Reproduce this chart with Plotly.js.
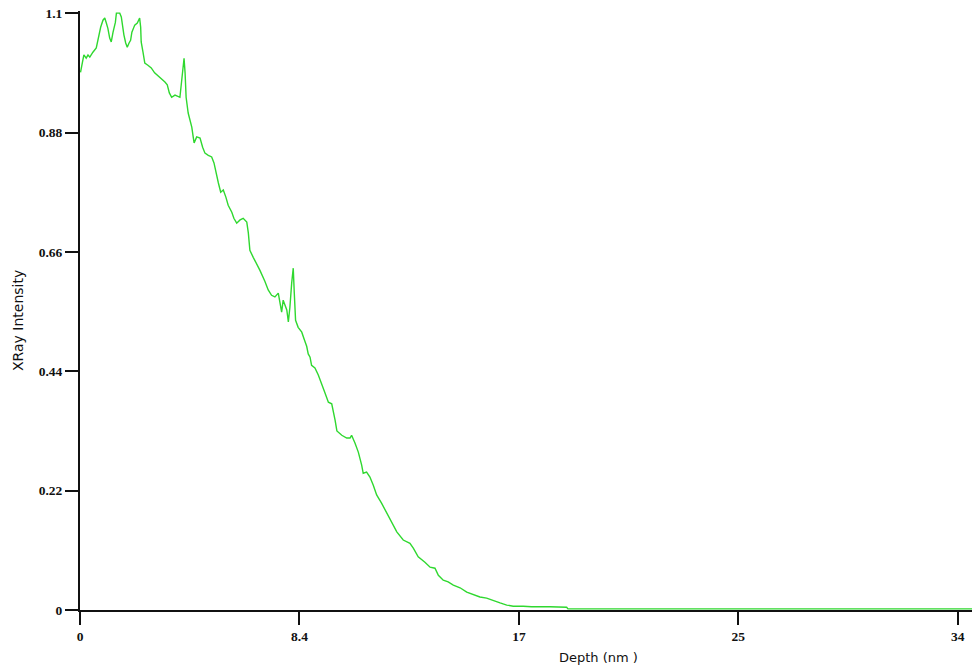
<!DOCTYPE html>
<html>
<head>
<meta charset="utf-8">
<script src="https://cdn.plot.ly/plotly-3.0.1.min.js"></script>
<style>
  html, body { margin: 0; padding: 0; background: #ffffff; }
  #chart { width: 972px; height: 671px; }
</style>
</head>
<body>
<div id="chart"></div>
<script>
// Depth profile: X-ray intensity versus depth (nm)
const depthNm = [
  0.02, 0.08, 0.15, 0.24, 0.31, 0.38, 0.43, 0.50, 0.63, 0.72,
  0.80, 0.89, 0.96, 1.02, 1.08, 1.15, 1.21, 1.28, 1.37, 1.41,
  1.54, 1.60, 1.64, 1.70, 1.77, 1.83, 1.90, 1.96, 2.01, 2.12,
  2.22, 2.31, 2.35, 2.37, 2.44, 2.51, 2.63, 2.76, 2.89, 3.09,
  3.21, 3.29, 3.38, 3.46, 3.55, 3.68, 3.87, 3.94, 4.03, 4.07,
  4.11, 4.19, 4.33, 4.39, 4.42, 4.52, 4.65, 4.75, 4.84, 4.97,
  5.10, 5.19, 5.27, 5.36, 5.45, 5.55, 5.65, 5.74, 5.88, 5.96,
  6.07, 6.20, 6.32, 6.46, 6.52, 6.58, 6.71, 6.84, 6.97, 7.16,
  7.29, 7.42, 7.55, 7.68, 7.75, 7.81, 7.87, 7.94, 8.01, 8.07,
  8.13, 8.20, 8.26, 8.30, 8.35, 8.45, 8.59, 8.69, 8.78, 8.84,
  8.91, 8.97, 9.10, 9.23, 9.36, 9.49, 9.62, 9.75, 9.88, 9.95,
  10.14, 10.33, 10.46, 10.52, 10.65, 10.78, 10.91, 10.97, 11.10, 11.23,
  11.36, 11.49, 11.68, 11.88, 12.07, 12.27, 12.52, 12.78, 12.91, 13.10,
  13.36, 13.56, 13.75, 13.88, 14.07, 14.26, 14.46, 14.72, 14.98, 15.23,
  15.49, 15.75, 16.01, 16.27, 16.53, 16.78, 17.17, 17.49, 18.20, 18.85,
  18.90, 22.0, 26.0, 30.0, 34.55
];

const xrayIntensity = [
  0.991, 1.006, 1.023, 1.017, 1.023, 1.019, 1.024, 1.028, 1.036, 1.060,
  1.074, 1.087, 1.091, 1.082, 1.072, 1.054, 1.047, 1.065, 1.083, 1.100,
  1.100, 1.093, 1.078, 1.060, 1.045, 1.037, 1.045, 1.050, 1.065, 1.078,
  1.082, 1.091, 1.074, 1.047, 1.028, 1.008, 1.004, 0.999, 0.990, 0.982,
  0.977, 0.973, 0.968, 0.953, 0.945, 0.949, 0.945, 0.980, 1.017, 0.990,
  0.945, 0.916, 0.890, 0.870, 0.861, 0.872, 0.870, 0.853, 0.842, 0.838,
  0.835, 0.824, 0.805, 0.787, 0.770, 0.774, 0.761, 0.746, 0.733, 0.722,
  0.713, 0.719, 0.722, 0.715, 0.695, 0.663, 0.650, 0.639, 0.626, 0.606,
  0.590, 0.580, 0.577, 0.584, 0.566, 0.549, 0.571, 0.562, 0.553, 0.531,
  0.558, 0.603, 0.630, 0.584, 0.534, 0.521, 0.512, 0.498, 0.486, 0.472,
  0.466, 0.451, 0.446, 0.433, 0.418, 0.400, 0.383, 0.380, 0.350, 0.330,
  0.322, 0.317, 0.317, 0.322, 0.308, 0.291, 0.267, 0.252, 0.254, 0.245,
  0.230, 0.212, 0.197, 0.179, 0.160, 0.144, 0.129, 0.123, 0.114, 0.098,
  0.088, 0.079, 0.077, 0.064, 0.055, 0.052, 0.046, 0.041, 0.033, 0.029,
  0.024, 0.022, 0.017, 0.013, 0.009, 0.007, 0.007, 0.006, 0.006, 0.005,
  0.002, 0.002, 0.002, 0.002, 0.002
];

const xTickVals = [0, 8.5, 17, 25.5, 34];
const xTickText = ['0', '8.4', '17', '25', '34'];
const yTickVals = [0, 0.22, 0.44, 0.66, 0.88, 1.1];
const yTickText = ['0', '0.22', '0.44', '0.66', '0.88', '1.1'];

const trace = {
  x: depthNm,
  y: xrayIntensity,
  type: 'scatter',
  mode: 'lines',
  line: { color: '#2fd82f', width: 1.4 },
  hoverinfo: 'x+y'
};

const tickFont = { family: 'Liberation Serif, serif', size: 13.5, color: '#111', weight: 'bold' };

const layout = {
  width: 972,
  height: 671,
  margin: { l: 80, r: 0, t: 11, b: 61 },
  paper_bgcolor: '#ffffff',
  plot_bgcolor: '#ffffff',
  showlegend: false,
  xaxis: {
    range: [0, 34.55],
    tickmode: 'array',
    tickvals: xTickVals,
    ticktext: xTickText,
    ticks: 'outside',
    ticklen: 13,
    tickwidth: 2,
    tickcolor: '#111',
    showline: true,
    linecolor: '#111',
    linewidth: 2,
    showgrid: false,
    zeroline: false,
    tickfont: tickFont
  },
  yaxis: {
    range: [0, 1.104],
    tickmode: 'array',
    tickvals: yTickVals,
    ticktext: yTickText,
    ticks: 'outside',
    ticklen: 13,
    tickwidth: 2,
    tickcolor: '#111',
    showline: true,
    linecolor: '#111',
    linewidth: 2,
    showgrid: false,
    zeroline: false,
    tickfont: tickFont
  },
  annotations: [
    {
      text: 'XRay Intensity',
      xref: 'paper', yref: 'paper',
      x: -0.0695, y: 0.4825,
      xanchor: 'center', yanchor: 'middle',
      textangle: -90,
      showarrow: false,
      font: { family: 'DejaVu Sans, sans-serif', size: 14, color: '#111' }
    },
    {
      text: 'Depth (nm )',
      xref: 'paper', yref: 'paper',
      x: 0.5818, y: -0.0801,
      xanchor: 'center', yanchor: 'middle',
      showarrow: false,
      font: { family: 'DejaVu Sans, sans-serif', size: 13, color: '#111' }
    }
  ]
};

Plotly.newPlot('chart', [trace], layout, { displayModeBar: false, staticPlot: true });
</script>
</body>
</html>
